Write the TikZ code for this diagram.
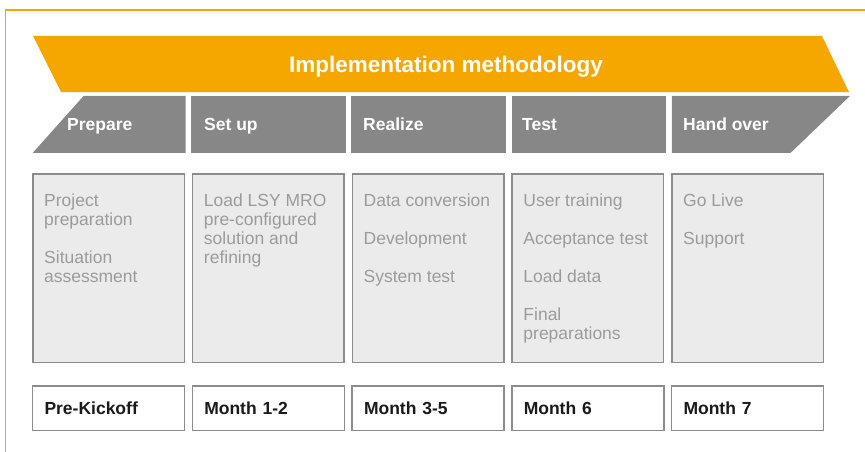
\documentclass[tikz,border=0pt]{standalone}
\usepackage{fontspec}
\setmainfont{Liberation Sans}
\usetikzlibrary{shapes.geometric, positioning}

\definecolor{sunorange}{HTML}{F5A700}
\definecolor{phasegray}{HTML}{878787}
\definecolor{boxgray}{HTML}{8C8C8C}
\definecolor{boxfill}{HTML}{EBEBEB}
\definecolor{textgray}{HTML}{9B9B9B}
\definecolor{monthtext}{HTML}{1A1A1A}

\tikzstyle{phasefirst} = [trapezium, 
trapezium stretches=true, 
trapezium left angle=63.4, 
trapezium right angle=90, 
minimum width=152.7pt, 
minimum height=57pt, 
inner sep=1pt, 
fill=phasegray]
\tikzstyle{phaselast} = [trapezium, 
trapezium stretches=true, 
trapezium left angle=90, 
trapezium right angle=116.6, 
minimum width=178.3pt, 
minimum height=57pt, 
inner sep=1pt, 
fill=phasegray]
\tikzstyle{phase} = [rectangle, 
minimum width=154.5pt, 
minimum height=57pt, 
inner sep=0pt, 
fill=phasegray]
\tikzstyle{phaselabel} = [anchor=base west, 
inner sep=0pt, 
text=white, 
font=\fontsize{17.5}{19}\selectfont\bfseries]
\tikzstyle{task} = [rectangle, 
minimum width=151.5pt, 
minimum height=188.5pt, 
draw=boxgray, 
line width=1.5pt, 
fill=boxfill]
\tikzstyle{tasktext} = [anchor=north west, 
inner sep=0pt, 
align=left, 
text=textgray, 
font=\fontsize{17.5}{18.8}\selectfont]
\tikzstyle{month} = [rectangle, 
minimum width=151.5pt, 
minimum height=44.5pt, 
text width=128pt, 
inner xsep=12pt, 
align=left, 
draw=boxgray, 
line width=1.5pt, 
fill=white, 
text=monthtext, 
font=\fontsize{17.5}{19}\selectfont\bfseries]

\begin{document}
\begin{tikzpicture}[x=1pt, y=-1pt]
\useasboundingbox (0,0) rectangle (865,452);

% frame
\draw [sunorange, line width=1.8pt] (5.5,452) -- (5.5,10) -- (865,10);

% banner and phases
\fill [sunorange] (33,36) -- (822,36) -- (849,92) -- (61,92) -- cycle;
\node (title) [anchor=base, inner sep=0pt, text=white, font=\fontsize{22.5}{27}\selectfont\bfseries] at (446,73) {Implementation methodology};

\node (prepare) [phasefirst, anchor=bottom right corner] at (185.7,153) {};
\node (setup) [phase, right=5.3pt of prepare] {};
\node (realize) [phase, right=5.3pt of setup] {};
\node (test) [phase, right=5.3pt of realize] {};
\node (handover) [phaselast, right=5.3pt of test] {};

\node (prepare label) [phaselabel] at (67,130) {Prepare};
\node (setup label) [phaselabel] at (204,130) {Set up};
\node (realize label) [phaselabel] at (363,130) {Realize};
\node (test label) [phaselabel] at (522,130) {Test};
\node (handover label) [phaselabel] at (683,130) {Hand over};

% task boxes
\node (task1) [task] at (108.5,268) {};
\node (task2) [task, right=6.75pt of task1] {};
\node (task3) [task, right=6.75pt of task2] {};
\node (task4) [task, right=6.75pt of task3] {};
\node (task5) [task, right=6.75pt of task4] {};

\node (text1) [tasktext] at ([xshift=12pt, yshift=-21pt]task1.north west) {Project\\preparation\\[19pt]Situation\\assessment};
\node (text2) [tasktext] at ([xshift=12pt, yshift=-21pt]task2.north west) {Load LSY MRO\\pre-configured\\solution and\\refining};
\node (text3) [tasktext] at ([xshift=12pt, yshift=-21pt]task3.north west) {Data conversion\\[19pt]Development\\[19pt]System test};
\node (text4) [tasktext] at ([xshift=12pt, yshift=-21pt]task4.north west) {User training\\[19pt]Acceptance test\\[19pt]Load data\\[19pt]Final\\preparations};
\node (text5) [tasktext] at ([xshift=12pt, yshift=-21pt]task5.north west) {Go Live\\[19pt]Support};

% months
\node (month1) [month, below=22pt of task1] {Pre-Kickoff};
\node (month2) [month, below=22pt of task2] {Month 1-2};
\node (month3) [month, below=22pt of task3] {Month 3-5};
\node (month4) [month, below=22pt of task4] {Month 6};
\node (month5) [month, below=22pt of task5] {Month 7};

\end{tikzpicture}
\end{document}
